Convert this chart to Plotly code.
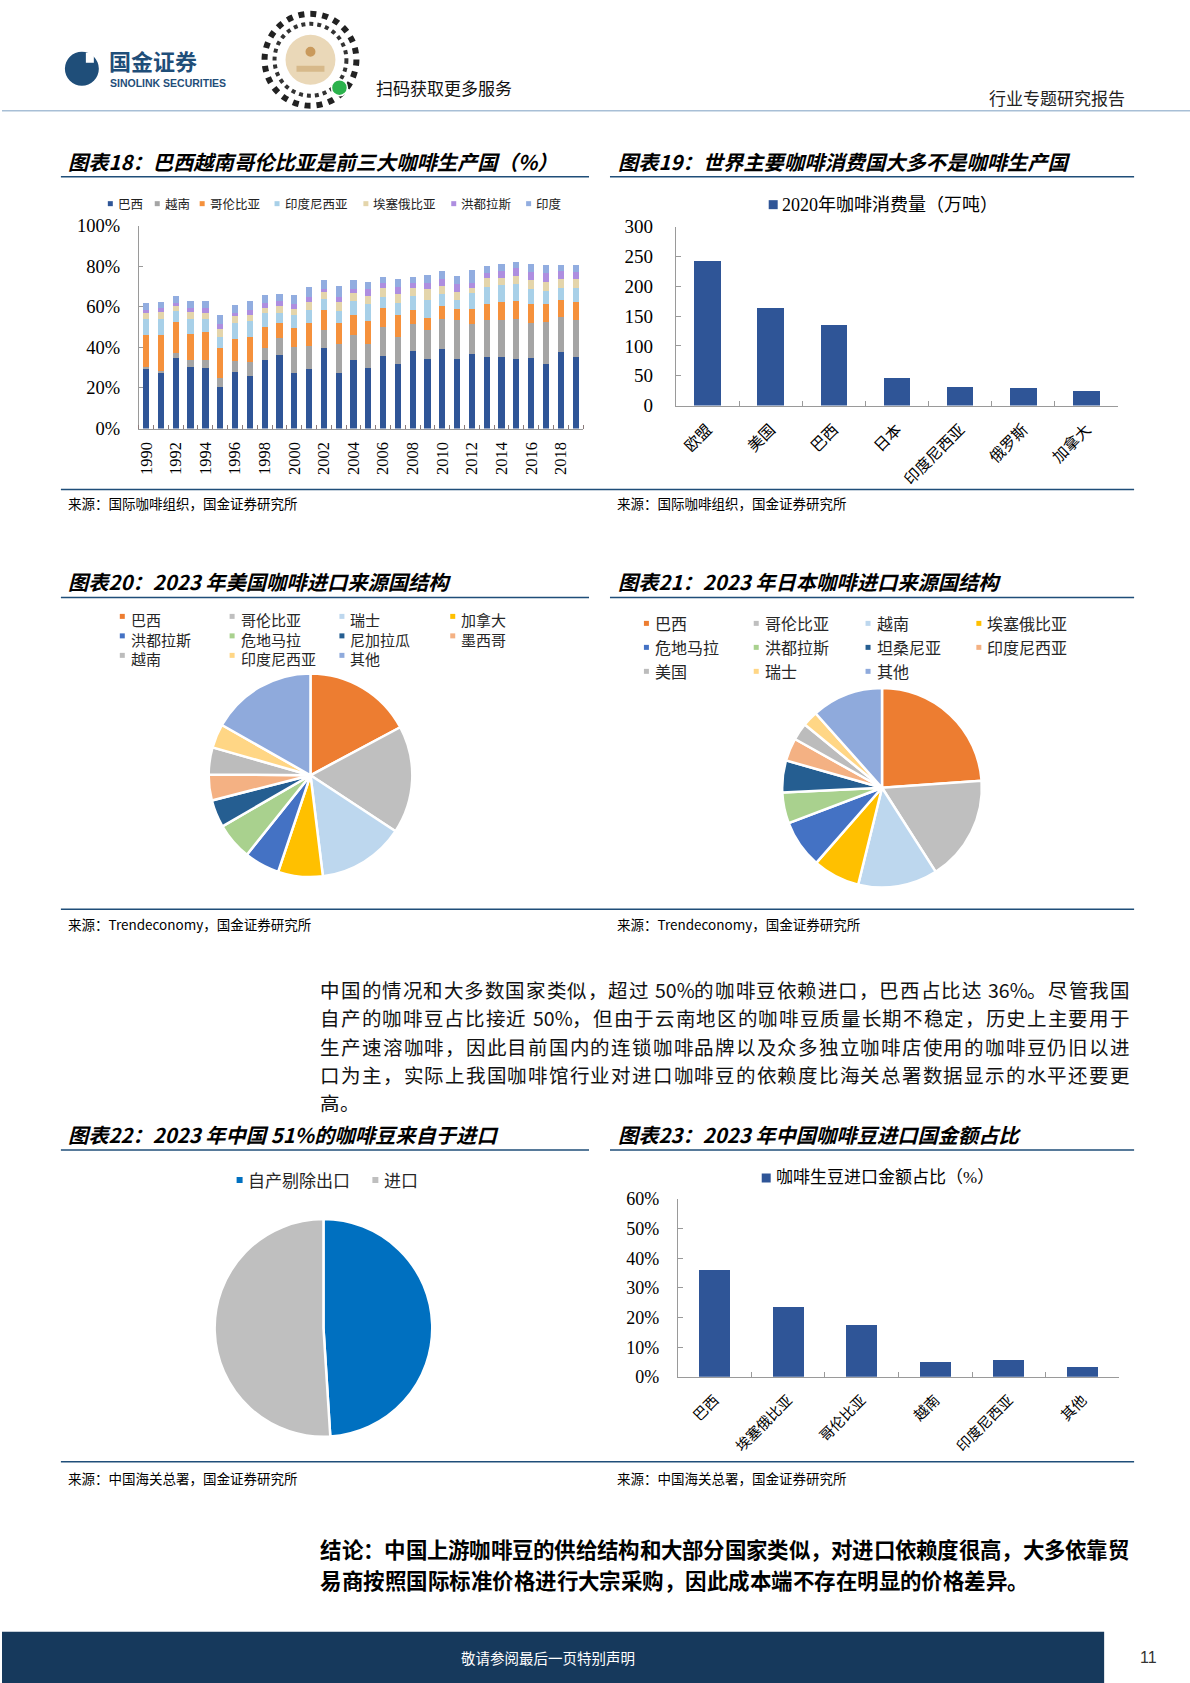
import plotly.graph_objects as go

W, H = 1190, 1683
# measured page rendering: the capture squeezes the page vertically a little; compensate
SY, OY = 0.9882, 8.2
def X(px): return px / W
def Y(py): return 1 - ((py - OY) / SY) / H

CJK = "Noto Sans CJK SC"
SERIF = "Liberation Serif, Noto Sans CJK SC"

# ---------------- data ----------------
years = list(range(1990, 2020))
brazil = [29.1, 27.2, 34.9, 30.5, 30.0, 20.6, 28.0, 25.9, 33.6, 36.0, 27.5, 29.1, 39.5, 27.2, 33.9,
          29.6, 35.7, 31.9, 38.2, 34.4, 39.4, 34.1, 36.5, 35.4, 35.4, 34.1, 34.9, 31.9, 37.7, 35.2]
vietnam = [1.2, 1.3, 2.4, 3.4, 4.0, 4.4, 5.2, 7.1, 5.9, 8.8, 12.8, 11.6, 9.1, 14.6, 12.0,
           12.2, 14.1, 13.4, 13.5, 14.0, 14.4, 19.2, 15.2, 17.9, 17.9, 19.7, 17.3, 20.8, 17.3, 18.3]
colombia = [15.8, 17.6, 15.4, 12.7, 13.7, 14.8, 11.1, 12.3, 10.7, 7.4, 9.4, 11.5, 9.7, 10.4, 10.0,
            11.2, 9.6, 10.5, 6.6, 6.3, 6.6, 5.5, 7.1, 7.9, 9.3, 9.1, 9.0, 8.5, 8.4, 9.1]
indonesia = [7.7, 7.7, 5.2, 7.4, 6.1, 5.5, 7.9, 7.7, 6.9, 4.9, 6.1, 6.1, 5.7, 5.7, 7.0,
             8.2, 5.3, 6.3, 7.1, 8.5, 5.8, 4.4, 8.2, 8.8, 8.0, 8.2, 7.4, 6.6, 6.1, 6.9]
ethiopia = [3.3, 3.6, 2.6, 3.3, 3.3, 3.6, 3.3, 2.8, 2.5, 3.3, 3.0, 4.1, 3.5, 4.7, 4.1,
            4.1, 4.4, 4.4, 3.7, 5.4, 4.1, 4.3, 2.5, 4.1, 3.8, 4.1, 4.5, 4.6, 4.1, 4.1]
honduras = [1.2, 2.2, 1.6, 2.1, 2.2, 2.5, 1.6, 2.6, 2.1, 2.5, 2.4, 2.6, 1.1, 2.4, 1.6,
            3.3, 2.5, 3.3, 2.5, 3.3, 3.3, 3.6, 2.4, 2.8, 3.3, 4.1, 4.3, 4.1, 4.1, 3.8]
india = [3.4, 3.0, 3.0, 3.6, 3.4, 4.4, 3.8, 4.6, 4.1, 3.3, 4.5, 4.8, 4.5, 5.3, 4.5,
         3.8, 3.3, 3.8, 3.1, 3.7, 4.1, 4.2, 6.1, 3.3, 3.3, 3.0, 3.6, 4.0, 2.8, 3.1]
prod_names = ["巴西", "越南", "哥伦比亚", "印度尼西亚", "埃塞俄比亚", "洪都拉斯", "印度"]
prod_series = [brazil, vietnam, colombia, indonesia, ethiopia, honduras, india]
prod_colors = ["#2f5597", "#a5a5a5", "#f5913c", "#a8d0e8", "#e4d5ab", "#ae8ee0", "#92ade0"]
year_ticks = list(range(1990, 2019, 2))
pct_ticks = [0, 20, 40, 60, 80, 100]

cons_countries = ["欧盟", "美国", "巴西", "日本", "印度尼西亚", "俄罗斯", "加拿大"]
cons_values = [243, 163, 135, 46, 31, 29, 24]
cons_label = "2020年咖啡消费量（万吨）"

us_names = ["巴西", "哥伦比亚", "瑞士", "加拿大", "洪都拉斯", "危地马拉", "尼加拉瓜", "墨西哥", "越南", "印度尼西亚", "其他"]
us_values = [17.2, 17.1, 13.8, 7.1, 5.6, 5.9, 4.4, 4.1, 4.3, 3.8, 16.8]
us_colors = ["#ed7d31", "#bfbfbf", "#bdd7ee", "#ffc000", "#4472c4", "#a9d18e", "#255e91", "#f4b183", "#bcbcbc", "#ffd685", "#8faadc"]

jp_names = ["巴西", "哥伦比亚", "越南", "埃塞俄比亚", "危地马拉", "洪都拉斯", "坦桑尼亚", "印度尼西亚", "美国", "瑞士", "其他"]
jp_values = [23.9, 17.1, 12.9, 7.6, 7.8, 5.0, 5.2, 3.7, 2.8, 2.5, 11.6]
jp_colors = ["#ed7d31", "#bfbfbf", "#bdd7ee", "#ffc000", "#4472c4", "#a9d18e", "#255e91", "#f4b183", "#bcbcbc", "#ffd685", "#8faadc"]

cn_names = ["自产剔除出口", "进口"]
cn_values = [49, 51]
cn_colors = ["#0070c0", "#bfbfbf"]

imp_countries = ["巴西", "埃塞俄比亚", "哥伦比亚", "越南", "印度尼西亚", "其他"]
imp_values = [36.1, 23.5, 17.6, 5.1, 5.8, 3.3]
imp_label = "咖啡生豆进口金额占比（%）"

para_lines = [
    "中国的情况和大多数国家类似，超过 50%的咖啡豆依赖进口，巴西占比达 36%。尽管我国",
    "自产的咖啡豆占比接近 50%，但由于云南地区的咖啡豆质量长期不稳定，历史上主要用于",
    "生产速溶咖啡，因此目前国内的连锁咖啡品牌以及众多独立咖啡店使用的咖啡豆仍旧以进",
    "口为主，实际上我国咖啡馆行业对进口咖啡豆的依赖度比海关总署数据显示的水平还要更",
    "高。",
]
concl_lines = [
    "结论：中国上游咖啡豆的供给结构和大部分国家类似，对进口依赖度很高，大多依靠贸",
    "易商按照国际标准价格进行大宗采购，因此成本端不存在明显的价格差异。",
]

# ---------------- figure ----------------
fig = go.Figure()

for name, vals, col in zip(prod_names, prod_series, prod_colors):
    fig.add_trace(go.Bar(x=years, y=vals, name=name, marker=dict(color=col, line=dict(width=0)),
                         xaxis="x", yaxis="y", showlegend=False))

fig.add_trace(go.Bar(x=cons_countries, y=cons_values, marker=dict(color="#2f5597", line=dict(width=0)),
                     xaxis="x2", yaxis="y2", showlegend=False))
fig.add_trace(go.Bar(x=imp_countries, y=imp_values, marker=dict(color="#2f5597", line=dict(width=0)),
                     xaxis="x3", yaxis="y3", showlegend=False))

def pie(names, vals, cols, cx, cy, r):
    fig.add_trace(go.Pie(labels=names, values=vals, sort=False, direction="clockwise",
                         marker=dict(colors=cols, line=dict(color="white", width=2.5)),
                         textinfo="none", showlegend=False,
                         domain=dict(x=[X(cx - r), X(cx + r)], y=[Y(cy + r), Y(cy - r)])))

pie(us_names, us_values, us_colors, 309, 774, 102)
pie(jp_names, jp_values, jp_colors, 881.5, 786.5, 100)
pie(cn_names, cn_values, cn_colors, 322, 1327, 109)

axcol = "#9a9a9a"
fig.update_layout(
    width=W, height=H, margin=dict(l=0, r=0, t=0, b=0),
    paper_bgcolor="white", plot_bgcolor="white",
    barmode="stack", bargap=0.58,
    xaxis=dict(domain=[X(137), X(582)], anchor="y", range=[1989.5, 2019.5],
               tickmode="array", tickvals=year_ticks, ticktext=[str(v) for v in year_ticks],
               tickangle=-90, ticks="", showline=True, linecolor=axcol, linewidth=1,
               showgrid=False, zeroline=False, tickfont=dict(family=SERIF, size=16.5, color="#000"),
               ticklabelstandoff=6,
               minor=dict(tickmode="linear", tick0=1989.5, dtick=1, ticks="inside", ticklen=4,
                          tickcolor="#8a7a7a", showgrid=False)),
    yaxis=dict(domain=[Y(427), Y(224)], anchor="x", range=[0, 100], tickmode="array",
               tickvals=pct_ticks, ticktext=[f"{v}%" for v in pct_ticks],
               ticks="inside", ticklen=4, tickcolor=axcol, showline=True,
               linecolor=axcol, showgrid=False, zeroline=False,
               tickfont=dict(family=SERIF, size=18.5, color="#000"), ticklabelstandoff=14),
    xaxis2=dict(domain=[X(675), X(1118)], anchor="y2", type="category", tickson="boundaries",
                ticks="inside", ticklen=5, tickcolor=axcol, showline=True, linecolor=axcol,
                tickangle=-45, tickfont=dict(family=CJK, size=15.5, color="#000"), showgrid=False,
                ticklabelstandoff=8),
    yaxis2=dict(domain=[Y(404), Y(225)], anchor="x2", range=[0, 300], dtick=50,
                ticks="inside", ticklen=5, tickcolor=axcol, showline=True, linecolor=axcol,
                showgrid=False, zeroline=False, tickfont=dict(family=SERIF, size=19, color="#000"),
                ticklabelstandoff=18),
    xaxis3=dict(domain=[X(677), X(1119)], anchor="y3", type="category", tickson="boundaries",
                ticks="inside", ticklen=5, tickcolor=axcol, showline=True, linecolor=axcol,
                tickangle=-45, tickfont=dict(family=CJK, size=14.5, color="#000"), showgrid=False,
                ticklabelstandoff=8),
    yaxis3=dict(domain=[Y(1376), Y(1198)], anchor="x3", range=[0, 60], dtick=10, ticksuffix="%",
                ticks="inside", ticklen=5, tickcolor=axcol, showline=True, linecolor=axcol,
                showgrid=False, zeroline=False, tickfont=dict(family=SERIF, size=18, color="#000"),
                ticklabelstandoff=14),
)

ann = []
shapes = []

def txt(x, y, s, size, color="#000", family=CJK, xanchor="left", weight="normal", style="normal",
        yanchor="middle", pad=1):
    ann.append(dict(x=X(x), y=Y(y), xref="paper", yref="paper", text=s, showarrow=False,
                    xanchor=xanchor, yanchor=yanchor, align="left", borderpad=pad,
                    borderwidth=0 if pad == 0 else 1,
                    font=dict(family=family, size=size, color=color, weight=weight, style=style)))

def rect(x0, y0, x1, y1, fill, line=None, lw=0):
    shapes.append(dict(type="rect", xref="paper", yref="paper", x0=X(x0), x1=X(x1), y0=Y(y1), y1=Y(y0),
                       fillcolor=fill, line=dict(color=line or fill, width=lw), layer="above"))

def hline(x0, x1, y, color="#1f4e79", w=1.5):
    shapes.append(dict(type="line", xref="paper", yref="paper", x0=X(x0), x1=X(x1), y0=Y(y), y1=Y(y),
                       line=dict(color=color, width=w)))

def circle(cx, cy, r, fill, line="rgba(0,0,0,0)", lw=0, dash="solid"):
    shapes.append(dict(type="circle", xref="paper", yref="paper", x0=X(cx - r), x1=X(cx + r),
                       y0=Y(cy + r), y1=Y(cy - r), fillcolor=fill, line=dict(color=line, width=lw, dash=dash)))

def tokens(s):
    out, buf = [], ""
    for ch in s:
        if ch == " ":
            if buf:
                out.append(buf); buf = ""
            out.append(" ")
        elif ord(ch) < 128:
            buf += ch
        else:
            if buf:
                out.append(buf); buf = ""
            out.append(ch)
    if buf:
        out.append(buf)
    return out

def tok_w(t, size):
    if t == " ":
        return 0.224 * size
    if all(ord(c) < 128 for c in t):
        return sum(0.88 * size if c == "%" else 0.554 * size for c in t)
    return float(size)

def text_line(s, x0, x1, y, size, weight="normal", justify=True, color="#111"):
    toks = tokens(s)
    ws = [tok_w(t, size) for t in toks]
    gap = (x1 - x0 - sum(ws)) / (len(toks) - 1) if (justify and len(toks) > 1) else 0.0
    x = x0
    for t, wd in zip(toks, ws):
        if t != " ":
            txt(x, y, t, size, color=color, weight=weight, pad=0)
        x += wd + gap

# ---- header ----
circle(80, 67, 17, "#1f4e79")
rect(84, 51, 92, 61, "white")
txt(105, 58.5, "国金证券", 22, color="#1f4e79", weight="bold")
txt(106, 81.5, "SINOLINK SECURITIES", 10.5, color="#1f4e79", family="Liberation Sans", weight="bold")
circle(309, 58, 46, "rgba(0,0,0,0)", line="#222", lw=6, dash="dot")
circle(309, 58, 36, "rgba(0,0,0,0)", line="#333", lw=4, dash="dot")
circle(309, 58, 25, "#ead8b8")
circle(309, 50, 5, "#c99a5c")
rect(295, 64, 323, 70, "#d7b98a")
circle(338, 86, 8, "#2bb24c", line="white", lw=1.5)
txt(373, 86, "扫码获取更多服务", 17, color="#111")
txt(1127, 96, "行业专题研究报告", 17, color="#222", xanchor="right")
hline(0, W, 109, color="#a8bfd6", w=1.5)

# ---- titles & frame lines ----
tstyle = dict(size=20.3, weight="bold", style="italic")
src = 13.5
txt(64, 159, "图表18：巴西越南哥伦比亚是前三大咖啡生产国（%）", **tstyle)
txt(615, 159, "图表19：世界主要咖啡消费国大多不是咖啡生产国", **tstyle)
hline(59, 588, 175)
hline(609, 1134, 175)
hline(59, 1134, 488)
txt(64, 502, "来源：国际咖啡组织，国金证券研究所", src)
txt(614, 502, "来源：国际咖啡组织，国金证券研究所", src)

txt(64, 580, "图表20：2023 年美国咖啡进口来源国结构", **tstyle)
txt(615, 580, "图表21：2023 年日本咖啡进口来源国结构", **tstyle)
hline(59, 588, 596)
hline(609, 1134, 596)
hline(59, 1134, 908)
txt(64, 923, "来源：Trendeconomy，国金证券研究所", src)
txt(614, 923, "来源：Trendeconomy，国金证券研究所", src)

txt(64, 1133, "图表22：2023 年中国 51%的咖啡豆来自于进口", **tstyle)
txt(615, 1133, "图表23：2023 年中国咖啡豆进口国金额占比", **tstyle)
hline(59, 588, 1149)
hline(609, 1134, 1149)
hline(59, 1134, 1461)
txt(64, 1477, "来源：中国海关总署，国金证券研究所", src)
txt(614, 1477, "来源：中国海关总署，国金证券研究所", src)

# ---- legends ----
lx18 = [106, 153, 198, 273, 362, 450, 525]
for x, nm, col in zip(lx18, prod_names, prod_colors):
    rect(x, 199.5, x + 5, 204.5, col)
    txt(x + 8, 202, nm, 12.5, color="#222")

rect(768, 198.5, 777, 207.5, "#2f5597")
txt(779, 203, cons_label, 18, family=SERIF)

rect(761, 1172.5, 770, 1181.5, "#2f5597")
txt(773, 1177, imp_label, 17, family=SERIF)

# chart 20 legend: one text block per column
fs20 = 15
ls20 = 1.3 * fs20
top20 = 615 - ls20 / 2
cols20 = [118, 228, 338, 449]
for c, x in enumerate(cols20):
    idx = [i for i in range(len(us_names)) if i % 4 == c]
    for r, i in enumerate(idx):
        yy = 615 + r * ls20
        rect(x, yy - 2.5, x + 5, yy + 2.5, us_colors[i])
    txt(x + 9, top20, "<br>".join(us_names[i] for i in idx), fs20, color="#262626", yanchor="top")

# chart 21 legend
cols21 = [643, 753, 865, 976]
rows21 = [622, 646, 670]
for i, (nm, col) in enumerate(zip(jp_names, jp_colors)):
    x = cols21[i % 4]
    y = rows21[i // 4]
    rect(x, y - 2.5, x + 5, y + 2.5, col)
    txt(x + 9, y, nm, 16, color="#262626")

rect(235, 1176, 241, 1182, cn_colors[0])
txt(244, 1179, cn_names[0], 17, color="#262626")
rect(371, 1176, 377, 1182, cn_colors[1])
txt(381, 1179, cn_names[1], 17, color="#262626")

# ---- body text (justified like the report) ----
ps, pl = 19.5, 28.4
for i, line in enumerate(para_lines):
    text_line(line, 319, 1129, 1045 + (i - 2) * pl, ps, justify=(i < len(para_lines) - 1))
cs, cl = 21.5, 31.2
for i, line in enumerate(concl_lines):
    text_line(line, 319, 1129, 1563 + (i - 0.5) * cl, cs, weight="bold", justify=(i == 0), color="#000")

# ---- footer ----
rect(0, 1631, 1104, 1700, "#16395c")
txt(547, 1657, "敬请参阅最后一页特别声明", 14.5, color="white", xanchor="center")
txt(1148, 1657, "11", 16, color="#333", family="Liberation Sans", xanchor="center")

fig.update_layout(annotations=ann, shapes=shapes)

fig.write_html(
    "out.html",
    config={"displayModeBar": False},
    post_script=("document.documentElement.style.margin='0px';"
                 "document.body.style.margin='0px';document.body.style.padding='0px';"),
)
